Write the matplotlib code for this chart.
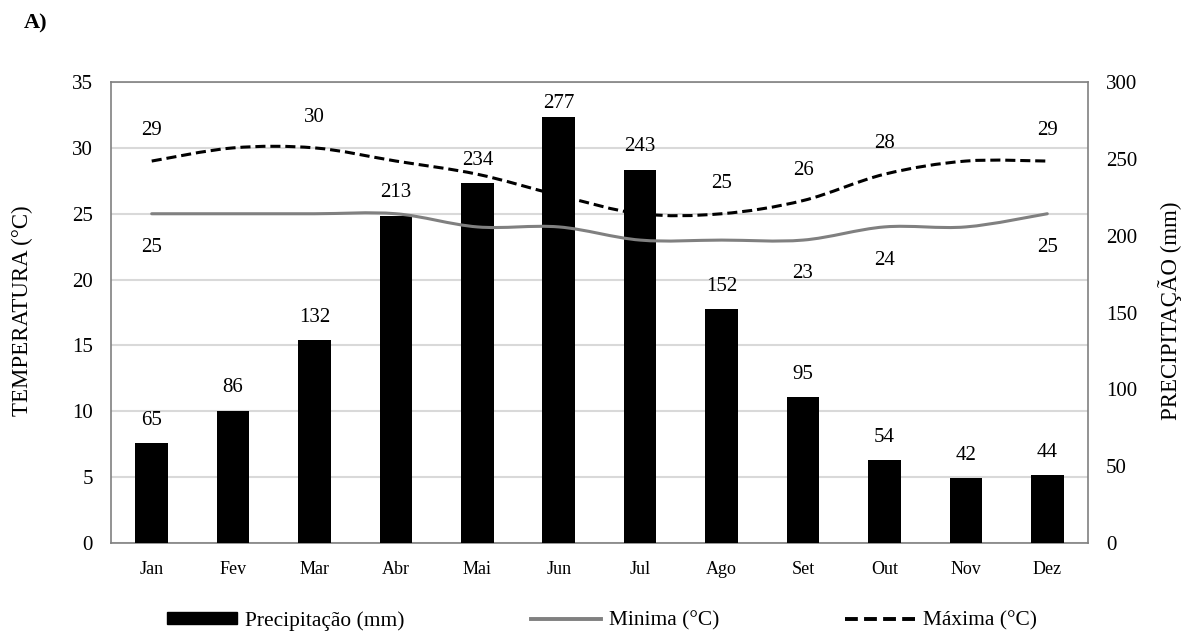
import matplotlib
matplotlib.use("Agg")
import matplotlib.pyplot as plt
from matplotlib.path import Path
from matplotlib.patches import PathPatch, Patch
from matplotlib.lines import Line2D
import numpy as np

plt.rcParams["font.family"] = ["Liberation Serif", "DejaVu Serif"]

meses = ["Jan", "Fev", "Mar", "Abr", "Mai", "Jun", "Jul", "Ago", "Set", "Out", "Nov", "Dez"]
precipitacao = [65, 86, 132, 213, 234, 277, 243, 152, 95, 54, 42, 44]
t_minima = [25, 25, 25, 25, 24, 24, 23, 23, 23, 24, 24, 25]
t_maxima = [29, 30, 30, 29, 28, 26.4, 25, 25, 26, 28, 29, 29]
# months whose temperature values carry a label
rotulos_max = [0, 2, 7, 8, 9, 11]
rotulos_min = [0, 8, 9, 11]

GRID = "#d9d9d9"
SPINE = "#808080"
CINZA = "#808080"
DASH = (0, (3.3, 1.6))


def smooth_path(xs, ys):
    # cubic bezier through every point (Catmull-Rom style tangents)
    pts = np.column_stack([xs, ys]).astype(float)
    n = len(pts)
    verts = [pts[0]]
    codes = [Path.MOVETO]
    for i in range(n - 1):
        p0 = pts[max(i - 1, 0)]
        p1 = pts[i]
        p2 = pts[i + 1]
        p3 = pts[min(i + 2, n - 1)]
        c1 = p1 + (p2 - p0) / 6.0
        c2 = p2 - (p3 - p1) / 6.0
        verts += [c1, c2, p2]
        codes += [Path.CURVE4] * 3
    return Path(verts, codes)


fig = plt.figure(figsize=(11.91, 6.31), dpi=100)
ax = fig.add_axes([0.0932, 0.1394, 0.8203, 0.7306])
x = np.arange(len(meses))

# temperature axis (left) with the grid
ax.set_ylim(0, 35)
ax.set_yticks(range(0, 36, 5))
ax.set_xlim(-0.5, len(meses) - 0.5)
ax.set_xticks(x)
ax.set_xticklabels(meses, fontsize=13)
ax.grid(axis="y", color=GRID, linewidth=1.5)
ax.set_axisbelow(True)
ax.tick_params(axis="y", length=0, pad=13, labelsize=15)
ax.tick_params(axis="x", length=0, pad=13)
for s in ax.spines.values():
    s.set_color(SPINE)
    s.set_linewidth(1.2)

# precipitation bars (right axis)
ax2 = ax.twinx()
ax2.set_ylim(0, 300)
ax2.set_yticks(range(0, 301, 50))
ax2.tick_params(axis="y", length=0, pad=13, labelsize=15)
for s in ax2.spines.values():
    s.set_visible(False)
barras = ax2.bar(x, precipitacao, width=0.4, color="black", zorder=2)
for b, v in zip(barras, precipitacao):
    # labels near the top are kept inside the plot area
    dy = 16.5 if v < 270 else 10
    ax2.annotate(str(v), (b.get_x() + b.get_width() / 2, v), xytext=(0, dy),
                 textcoords="offset points", ha="center", va="center", fontsize=15)

# temperature lines on top of the bars
ax3 = ax.twinx()
ax3.set_ylim(0, 35)
ax3.set_yticks([])
for s in ax3.spines.values():
    s.set_visible(False)
ax3.add_patch(PathPatch(smooth_path(x, t_minima), fill=False, edgecolor=CINZA,
                        linewidth=2.2, capstyle="round"))
ax3.add_patch(PathPatch(smooth_path(x, t_maxima), fill=False, edgecolor="black",
                        linewidth=2.2, linestyle=DASH))
for i in rotulos_max:
    ax3.annotate(f"{t_maxima[i]:g}", (x[i], t_maxima[i]), xytext=(0, 22),
                 textcoords="offset points", ha="center", va="center", fontsize=15)
for i in rotulos_min:
    ax3.annotate(f"{t_minima[i]:g}", (x[i], t_minima[i]), xytext=(0, -24),
                 textcoords="offset points", ha="center", va="center", fontsize=15)

fig.text(0.0185, 0.5078, "TEMPERATURA (°C)", rotation=90, ha="center", va="center", fontsize=16.5)
fig.text(0.982, 0.5078, "PRECIPITAÇÃO (mm)", rotation=90, ha="center", va="center", fontsize=16.5)
fig.text(0.030, 0.962, "A)", ha="center", va="center", fontsize=16, fontweight="bold")

handles = [
    Patch(facecolor="black", edgecolor="black"),
    Line2D([], [], color=CINZA, linewidth=2.8),
    Line2D([], [], color="black", linewidth=2.8, linestyle=DASH),
]
labels = ["Precipitação (mm)", "Minima (°C)", "Máxima (°C)"]
fig.legend(handles, labels, loc="center", bbox_to_anchor=(0.5055, 0.016), ncol=3,
           frameon=False, fontsize=15.4, handlelength=3.3, handleheight=0.5,
           handletextpad=0.35, columnspacing=5.9, borderpad=0.2)

fig.savefig("out.png", dpi=100)
plt.close(fig)
